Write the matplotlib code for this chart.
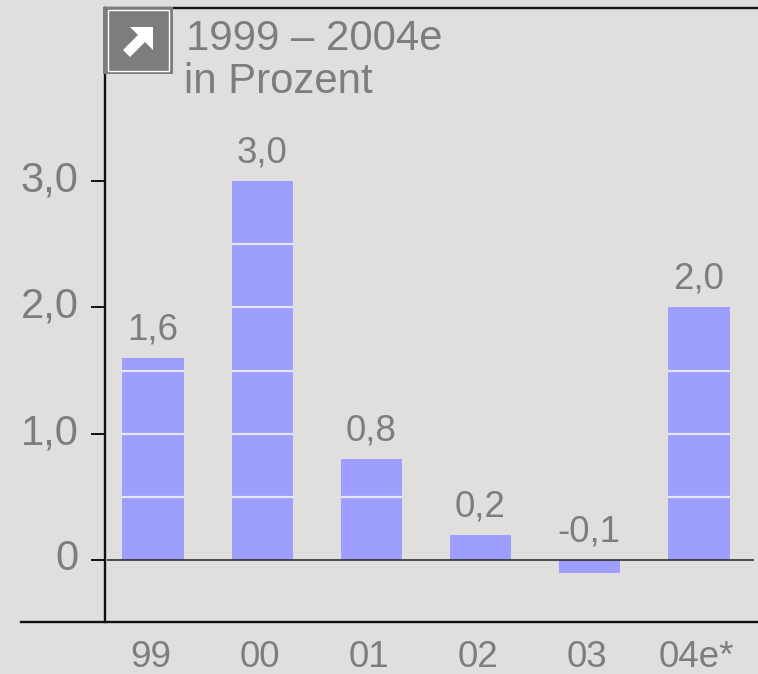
import matplotlib
matplotlib.use("Agg")
import matplotlib.pyplot as plt
from matplotlib.patches import Rectangle, Polygon
from matplotlib.transforms import ScaledTranslation

plt.rcParams["font.family"] = ["Liberation Sans", "DejaVu Sans"]

W, H = 758, 674
BG = "#e0dfde"
BAR = "#9e9eff"
GREY = "#7f7c80"

years = ["99", "00", "01", "02", "03", "04e*"]
values = [1.6, 3.0, 0.8, 0.2, -0.1, 2.0]
value_labels = ["1,6", "3,0", "0,8", "0,2", "-0,1", "2,0"]
y_ticks = [0, 1, 2, 3]
y_tick_labels = ["0", "1,0", "2,0", "3,0"]
bar_rules = [0.5, 1.0, 1.5, 2.0, 2.5]


def px(x, y):
    # pixel position in the picture -> figure fraction
    return x / W, 1 - y / H


fig = plt.figure(figsize=(W / 100, H / 100), dpi=100, facecolor=BG)
ax = fig.add_axes([105 / W, 1 - 622 / H, (W - 105) / W, (622 - 8) / H], facecolor=BG)

bar_width = 0.56
ax.bar(range(len(values)), values, width=bar_width, color=BAR, zorder=2)

# white rules inside the bars only
for i, v in enumerate(values):
    for r in bar_rules:
        if r < v:
            ax.hlines(r, i - bar_width / 2, i + bar_width / 2, color="#e6e6f0", lw=1.6, zorder=3)

ax.set_xlim(-0.44, 5.54)
ax.set_ylim(-0.491, 4.37)

# zero line, starts a little right of the axis
ax.hlines(0, -0.42, 5.5, color="#333333", lw=1.2, zorder=4)

for i, v in enumerate(values):
    top = max(v, 0)
    ax.annotate(value_labels[i], (i, top), xytext=(-0.5, 7.5), textcoords="offset points",
                ha="center", va="bottom", fontsize=26.5, color=GREY)

for s in ["top", "right", "bottom"]:
    ax.spines[s].set_visible(False)
ax.spines["left"].set_linewidth(1.7)
ax.spines["left"].set_color("#111111")

ax.set_yticks(y_ticks)
ax.set_yticklabels(y_tick_labels, fontsize=30, color=GREY)
ax.tick_params(axis="y", length=10, width=1.4, color="#111111", pad=9)
ax.set_xticks(range(len(years)))
ax.set_xticklabels(years, fontsize=26.5, color=GREY)
ax.tick_params(axis="x", length=0, pad=13)

# nudge the tick labels to where the picture has them
for lab in ax.get_yticklabels():
    lab.set_transform(lab.get_transform() + ScaledTranslation(0, 5 / 100, fig.dpi_scale_trans))
for lab in ax.get_xticklabels():
    lab.set_transform(lab.get_transform() + ScaledTranslation(-2.5 / 100, 0, fig.dpi_scale_trans))

# frame lines top and bottom
fig.add_artist(plt.Line2D(*zip(px(105, 8), px(W, 8)), color="#111111", lw=1.7))
fig.add_artist(plt.Line2D(*zip(px(21, 622), px(W, 622)), color="#111111", lw=1.7))

# arrow badge
x0, y0 = px(103, 74)
x1, y1 = px(173, 7)
fig.add_artist(Rectangle((x0, y0), x1 - x0, y1 - y0, transform=fig.transFigure,
                         fc=GREY, ec="none", zorder=5))
x0, y0 = px(107.5, 71)
x1, y1 = px(169, 10.5)
fig.add_artist(Rectangle((x0, y0), x1 - x0, y1 - y0, transform=fig.transFigure,
                         fc=GREY, ec="white", lw=1.0, zorder=6))
arrow = [(130, 27), (153, 27), (153, 50), (145, 42), (130, 57), (123, 50), (138, 35)]
fig.add_artist(Polygon([px(*p) for p in arrow], closed=True, transform=fig.transFigure,
                       fc="white", ec="none", zorder=7))

fig.text(*px(186, 50), "1999 – 2004e", fontsize=30.2, color=GREY, ha="left", va="baseline")
fig.text(*px(184, 93), "in Prozent", fontsize=30.2, color=GREY, ha="left", va="baseline")

fig.savefig("out.png", dpi=100, facecolor=BG)
